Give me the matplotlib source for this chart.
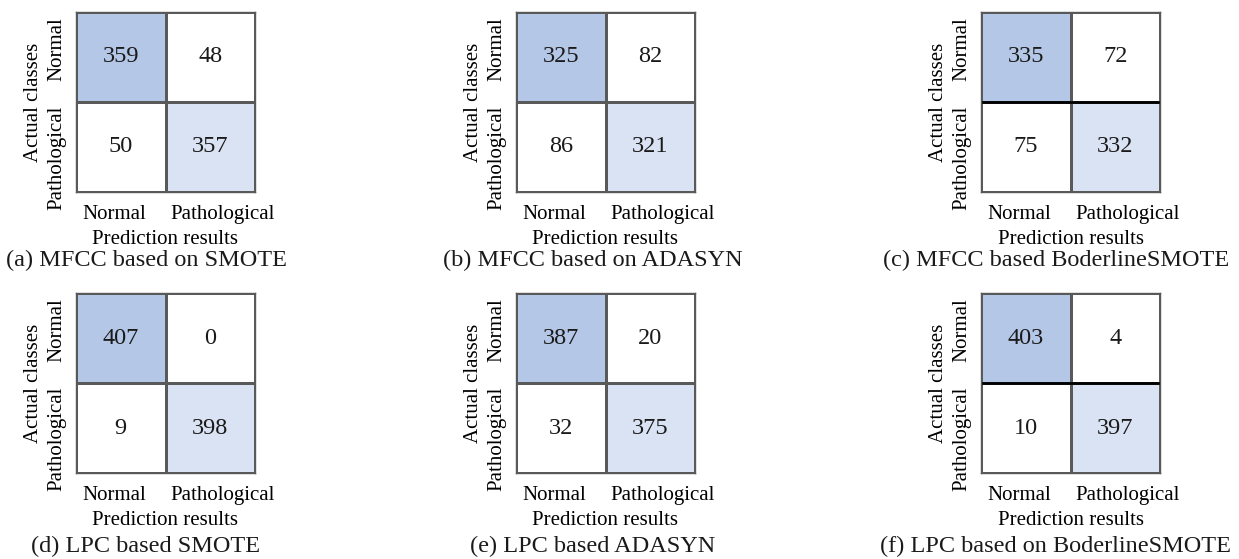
import numpy as np
import matplotlib
matplotlib.use("Agg")
import matplotlib.pyplot as plt
from matplotlib.colors import ListedColormap

plt.rcParams["font.family"] = ["Liberation Serif", "DejaVu Serif"]

# Confusion matrices: rows = actual class, columns = predicted class
mfcc_smote = [[359, 48], [50, 357]]
mfcc_adasyn = [[325, 82], [86, 321]]
mfcc_bsmote = [[335, 72], [75, 332]]
lpc_smote = [[407, 0], [9, 398]]
lpc_adasyn = [[387, 20], [32, 375]]
lpc_bsmote = [[403, 4], [10, 397]]

class_labels = ["Normal", "Pathological"]
captions = [
    "(a) MFCC based on SMOTE",
    "(b) MFCC based on ADASYN",
    "(c) MFCC based BoderlineSMOTE",
    "(d) LPC based SMOTE",
    "(e) LPC based ADASYN",
    "(f) LPC based on BoderlineSMOTE",
]
matrices = [mfcc_smote, mfcc_adasyn, mfcc_bsmote, lpc_smote, lpc_adasyn, lpc_bsmote]

# cell shading: 0 = white, 1 = dark blue (TP normal), 2 = light blue (TP pathological)
shade = np.array([[1, 0], [0, 2]])
cmap = ListedColormap(["#ffffff", "#b4c7e7", "#dae3f3"])

W, H = 1239, 559
fig = plt.figure(figsize=(W / 100, H / 100), dpi=100)

col_left = [76, 516, 981]
row_top = [12, 293]
box_w, box_h = 179, 180
cap_x = [146, 593, 1056]
cap_y = [260, 546]
thick_mid = [False, False, True, False, False, True]

for k, (cm, cap) in enumerate(zip(matrices, captions)):
    r, c = divmod(k, 3)
    left = col_left[c]
    top = row_top[r]
    ax = fig.add_axes([left / W, 1 - (top + box_h) / H, box_w / W, box_h / H])
    ax.pcolormesh(np.arange(3), np.arange(3), shade, cmap=cmap, vmin=-0.5, vmax=2.5,
                  edgecolors="#595959", linewidth=1.0)
    ax.set_xlim(0, 2)
    ax.set_ylim(2, 0)
    cm = np.asarray(cm)
    for i in range(2):
        for j in range(2):
            ax.text(j + 0.5, i + 0.5, str(cm[i, j]), ha="center", va="center",
                    fontsize=17.5, color="#1a1a1a")
    if thick_mid[k]:
        ax.axhline(1, color="black", lw=2.0)
    for s in ax.spines.values():
        s.set_edgecolor("#595959")
        s.set_linewidth(1.0)
    ax.set_xticks([0.43, 1.64])
    ax.set_xticklabels(class_labels, fontsize=15)
    ax.set_yticks([0.41, 1.62])
    ax.set_yticklabels(class_labels, fontsize=15, rotation=90, va="center")
    ax.tick_params(axis="x", length=0, pad=9.5)
    ax.tick_params(axis="y", length=0, pad=7)
    ax.set_xlabel("Prediction results", fontsize=15, labelpad=4)
    ax.set_ylabel("Actual classes", fontsize=15, labelpad=3)
    fig.text(cap_x[c] / W, 1 - cap_y[r] / H, cap, ha="center", va="center",
             fontsize=17.5, color="#1a1a1a")

fig.savefig("out.png", dpi=100, facecolor="white")
